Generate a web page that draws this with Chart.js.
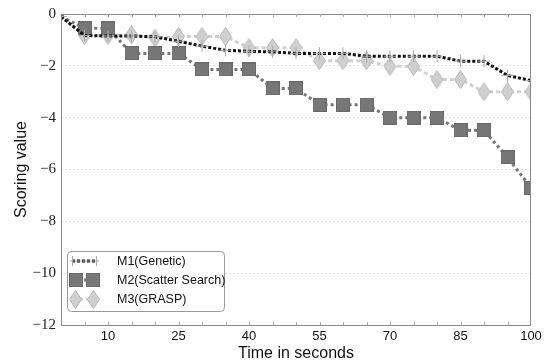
<!DOCTYPE html>
<html>
<head>
<meta charset="utf-8">
<script src="https://cdn.jsdelivr.net/npm/chart.js@4/dist/chart.umd.min.js"></script>
<style>
  html, body { margin: 0; padding: 0; background: #fff; }
  #wrap { width: 547px; height: 363px; }
</style>
</head>
<body>
<div id="wrap"><canvas id="scoring" width="547" height="363"></canvas></div>
<script>
const times = [0, 5, 10, 15, 20, 25, 30, 35, 40, 45, 50, 55, 60, 65, 70, 75, 80, 85, 90, 95, 100];
const m1Genetic = [-0.1, -0.83, -0.85, -0.85, -0.88, -1.05, -1.24, -1.4, -1.44, -1.46, -1.52, -1.52, -1.52, -1.63, -1.63, -1.63, -1.63, -1.82, -1.82, -2.37, -2.57];
const m2Scatter = [-0.1, -0.55, -0.55, -1.52, -1.52, -1.52, -2.14, -2.14, -2.14, -2.87, -2.87, -3.5, -3.5, -3.5, -4.0, -4.0, -4.0, -4.49, -4.49, -5.53, -6.7];
const m3Grasp = [-0.1, -0.83, -0.83, -0.8, -0.93, -0.87, -0.87, -0.87, -1.3, -1.3, -1.3, -1.8, -1.8, -1.8, -2.02, -2.02, -2.53, -2.53, -3.0, -3.0, -3.0];
const seriesNames = ["M1(Genetic)", "M2(Scatter Search)", "M3(GRASP)"];
const xTicks = [10, 25, 40, 55, 70, 85, 100];

// marker images
function makeSquare(s) {
    const c = document.createElement("canvas");
    c.width = s; c.height = s;
    const g = c.getContext("2d");
    g.fillStyle = "#777";
    g.fillRect(0, 0, s, s);
    g.strokeStyle = "#6a6a6a";
    g.strokeRect(0.5, 0.5, s - 1, s - 1);
    return c;
}
function makeDiamond(w, h) {
    const c = document.createElement("canvas");
    c.width = w; c.height = h;
    const g = c.getContext("2d");
    g.beginPath();
    g.moveTo(w / 2, 0.5);
    g.lineTo(w - 0.5, h / 2);
    g.lineTo(w / 2, h - 0.5);
    g.lineTo(0.5, h / 2);
    g.closePath();
    g.fillStyle = "#cfcfcf";
    g.fill();
    g.strokeStyle = "#b8b8b8";
    g.stroke();
    return c;
}
const squareBig = makeSquare(14), squareSmall = makeSquare(5);
const diamondBig = makeDiamond(13, 19), diamondSmall = makeDiamond(5, 7);

const frame = {
    id: "frame",
    afterDatasetsDraw(chart) {
        const a = chart.chartArea, ctx = chart.ctx, xs = chart.scales.x;
        ctx.save();
        ctx.strokeStyle = "#8a8a8a";
        ctx.lineWidth = 1;
        ctx.strokeRect(a.left + 0.5, a.top + 0.5, a.right - a.left - 1, a.bottom - a.top);
        ctx.strokeStyle = "#aaa";
        ctx.beginPath();
        for (let t = 5; t < 100; t += 5) {
            const px = Math.round(xs.getPixelForValue(t)) + 0.5;
            ctx.moveTo(px, a.bottom); ctx.lineTo(px, a.bottom - 3);
            ctx.moveTo(px, a.top); ctx.lineTo(px, a.top + 3);
        }
        ctx.stroke();

        // legend box
        const bx = 67, by = 251, bw = 157, bh = 60;
        ctx.beginPath();
        ctx.roundRect(bx + 0.5, by + 0.5, bw, bh, 4);
        ctx.fillStyle = "rgba(255,255,255,0.9)";
        ctx.fill();
        ctx.strokeStyle = "#999";
        ctx.stroke();
        const rows = [261, 280, 299];
        chart.data.datasets.forEach((ds, i) => {
            const y = rows[i];
            ctx.save();
            ctx.strokeStyle = ds.borderColor;
            ctx.lineWidth = ds.borderWidth;
            ctx.setLineDash(ds.borderDash);
            ctx.beginPath();
            ctx.moveTo(72, y); ctx.lineTo(97, y);
            ctx.stroke();
            ctx.restore();
            if (i == 0) {
                ctx.strokeStyle = "#aaa";
                ctx.lineWidth = 1;
                ctx.beginPath();
                ctx.moveTo(70, y); ctx.lineTo(99, y);
                ctx.moveTo(72.5, y - 5); ctx.lineTo(72.5, y + 5);
                ctx.moveTo(96.5, y - 5); ctx.lineTo(96.5, y + 5);
                ctx.stroke();
            } else if (i == 1) {
                ctx.drawImage(squareBig, 69, y - 7);
                ctx.drawImage(squareBig, 86, y - 7);
            } else {
                ctx.drawImage(diamondBig, 69, y - 9);
                ctx.drawImage(diamondBig, 87, y - 9);
            }
            ctx.fillStyle = "#111";
            ctx.font = "12.5px 'Liberation Sans'";
            ctx.textBaseline = "middle";
            ctx.fillText(ds.label, 117, y + 1);
        });
        ctx.restore();
    }
};

const chart = new Chart(document.getElementById("scoring").getContext("2d"), {
    type: "line",
    data: {
        datasets: [
            {
                label: seriesNames[0],
                data: times.map((t, i) => ({ x: t, y: m1Genetic[i] })),
                borderColor: "#111",
                borderWidth: 3,
                borderDash: [3, 2],
                pointStyle: "cross",
                pointRadius: 6,
                pointBorderColor: "#aaa",
                pointBorderWidth: 1,
                order: 1
            },
            {
                label: seriesNames[1],
                data: times.map((t, i) => ({ x: t, y: m2Scatter[i] })),
                borderColor: "#777",
                borderWidth: 3,
                borderDash: [3, 3],
                pointStyle: (c) => c.dataIndex == 0 ? squareSmall : squareBig,
                order: 2
            },
            {
                label: seriesNames[2],
                data: times.map((t, i) => ({ x: t, y: m3Grasp[i] })),
                borderColor: "#d0d0d0",
                borderWidth: 3,
                borderDash: [4, 3],
                pointStyle: (c) => c.dataIndex == 0 ? diamondSmall : diamondBig,
                order: 3
            }
        ]
    },
    options: {
        responsive: false,
        animation: false,
        layout: { padding: { top: 14, right: 16, left: 0, bottom: 0 } },
        plugins: { legend: { display: false }, tooltip: { enabled: false } },
        scales: {
            x: {
                type: "linear",
                min: 0, max: 100,
                afterBuildTicks: (s) => { s.ticks = xTicks.map(v => ({ value: v })); },
                afterFit: (s) => { s.height = 38; },
                grid: { display: false, drawTicks: false },
                border: { display: false },
                ticks: { color: "#111", font: { family: "Liberation Sans", size: 13 }, padding: 4, maxRotation: 0 },
                title: { display: true, text: "Time in seconds", color: "#111", font: { family: "Liberation Sans", size: 16 }, padding: { top: 0, bottom: 0 } }
            },
            y: {
                min: -12, max: 0,
                afterFit: (s) => { s.width = 61; },
                grid: { color: "#e2e2e2", drawTicks: false },
                border: { display: false, dash: [2, 2] },
                ticks: {
                    stepSize: 2,
                    color: "#222",
                    padding: 5,
                    font: { family: "Liberation Serif", size: 15 },
                    callback: (v) => v == 0 ? "0" : "\u2212" + Math.abs(v)
                },
                title: { display: true, text: "Scoring value", color: "#111", font: { family: "Liberation Sans", size: 16 }, padding: { top: 12, bottom: 0 } }
            }
        }
    },
    plugins: [frame]
});
</script>
</body>
</html>
